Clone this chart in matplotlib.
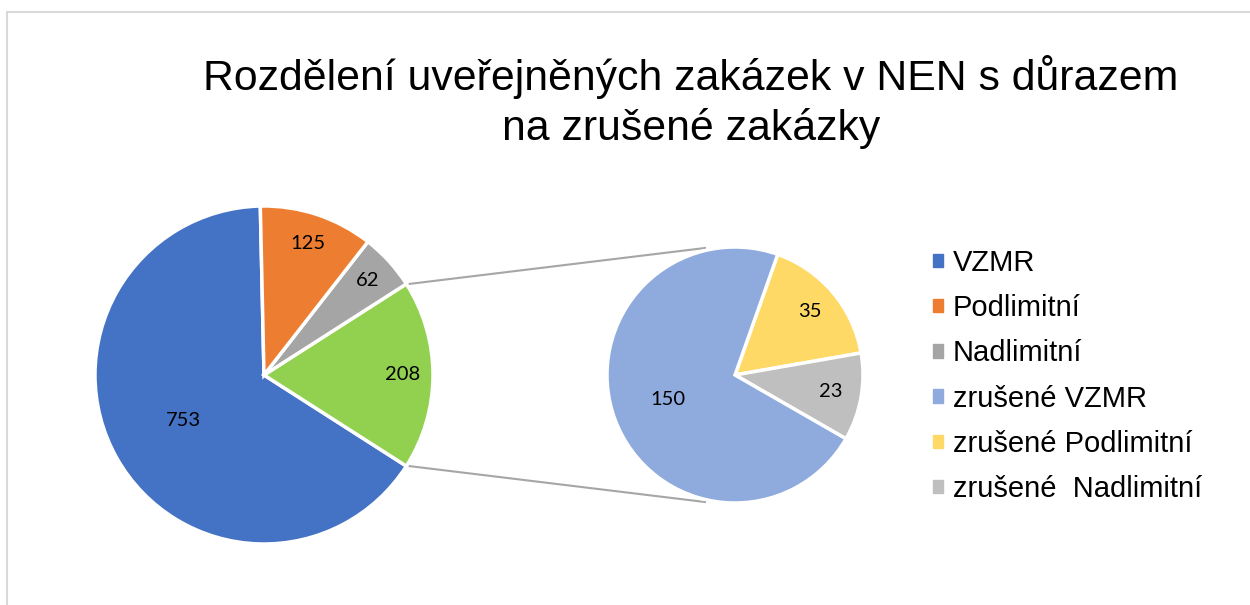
import matplotlib
matplotlib.use("Agg")
import matplotlib.pyplot as plt
from matplotlib.patches import Rectangle
import numpy as np

# ---- data ----
main_labels = ["VZMR", "Podlimitní", "Nadlimitní"]
main_values = [753, 125, 62]
cancel_labels = ["zrušené VZMR", "zrušené Podlimitní", "zrušené  Nadlimitní"]
cancel_values = [150, 35, 23]
title = "Rozdělení uveřejněných zakázek v NEN s důrazem\nna zrušené zakázky"

main_colors = ["#4472C4", "#ED7D31", "#A5A5A5"]
other_color = "#92D050"
cancel_colors = ["#8FAADC", "#FFD966", "#BFBFBF"]

W, H = 1250, 605
fig = plt.figure(figsize=(W / 100, H / 100), dpi=100)
ax = fig.add_axes([0, 0, 1, 1])
ax.set_xlim(0, W)
ax.set_ylim(0, H)
ax.set_aspect("equal")
ax.axis("off")

# chart frame
ax.plot([7, 7, W + 5], [-5, H - 11.5, H - 11.5], color="#D9D9D9", lw=1.5,
        solid_joinstyle="miter")

other_total = sum(cancel_values)

# main pie: order counter-clockwise from top: VZMR, other, Nadlimitní, Podlimitní
mvals = [main_values[0], other_total, main_values[2], main_values[1]]
mcols = [main_colors[0], other_color, main_colors[2], main_colors[1]]
mdist = [0.55, 0.82, 0.83, 0.82]
mtot = sum(mvals)
other_span = other_total / mtot * 360
start_main = -other_span / 2 - mvals[0] / mtot * 360  # other centred at 0 deg
c1 = (264, 605 - 375)
r1 = 169
wedges1, _ = ax.pie(mvals, colors=mcols, startangle=start_main, counterclock=True,
                    center=c1, radius=r1, frame=True,
                    wedgeprops=dict(edgecolor="white", linewidth=2.5))
for w, v, d in zip(wedges1, mvals, mdist):
    a = np.deg2rad((w.theta1 + w.theta2) / 2)
    ax.text(c1[0] + d * r1 * np.cos(a), c1[1] + d * r1 * np.sin(a), str(v),
            ha="center", va="center", fontsize=14.5, family="Lato", color="black")

# second pie: clockwise from upper right: zrušené Podlimitní, zrušené Nadlimitní, zrušené VZMR
svals = [cancel_values[1], cancel_values[2], cancel_values[0]]
scols = [cancel_colors[1], cancel_colors[2], cancel_colors[0]]
sdist = [0.77, 0.76, 0.56]
c2 = (735, 605 - 375)
r2 = 128
wedges2, _ = ax.pie(svals, colors=scols, startangle=70.5, counterclock=False,
                    center=c2, radius=r2, frame=True,
                    wedgeprops=dict(edgecolor="white", linewidth=2.5))
for w, v, d in zip(wedges2, svals, sdist):
    a = np.deg2rad((w.theta1 + w.theta2) / 2)
    ax.text(c2[0] + d * r2 * np.cos(a), c2[1] + d * r2 * np.sin(a), str(v),
            ha="center", va="center", fontsize=14.5, family="Lato", color="black")
ax.set_xlim(0, W)
ax.set_ylim(0, H)
ax.axis("off")

# connector lines from the "other" wedge to the second pie
ow = wedges1[1]
for ang, sgn in [(ow.theta2, 1), (ow.theta1, -1)]:
    a = np.deg2rad(ang)
    p0 = (c1[0] + r1 * np.cos(a), c1[1] + r1 * np.sin(a))
    p1 = (c2[0] - 30, c2[1] + sgn * (r2 - 1))
    ax.plot([p0[0] + 3, p1[0]], [p0[1], p1[1]], color="#A6A6A6", lw=1.5, zorder=0)

# title
ax.text(691, 605 - 102, title, ha="center", va="center", fontsize=30.8,
        family="Liberation Sans", color="black", linespacing=1.27)

# legend
handles = [Rectangle((0, 0), 1, 1, color=c) for c in main_colors + cancel_colors]
leg = ax.legend(handles, main_labels + cancel_labels, loc="upper left",
                bbox_to_anchor=(933 / W, 1 - 249 / H), frameon=False,
                prop={"family": "Liberation Sans", "size": 21},
                handlelength=0.33, handleheight=0.33, handletextpad=0.34,
                labelspacing=0.59, borderaxespad=0, borderpad=0)

fig.savefig("out.png", dpi=100)
